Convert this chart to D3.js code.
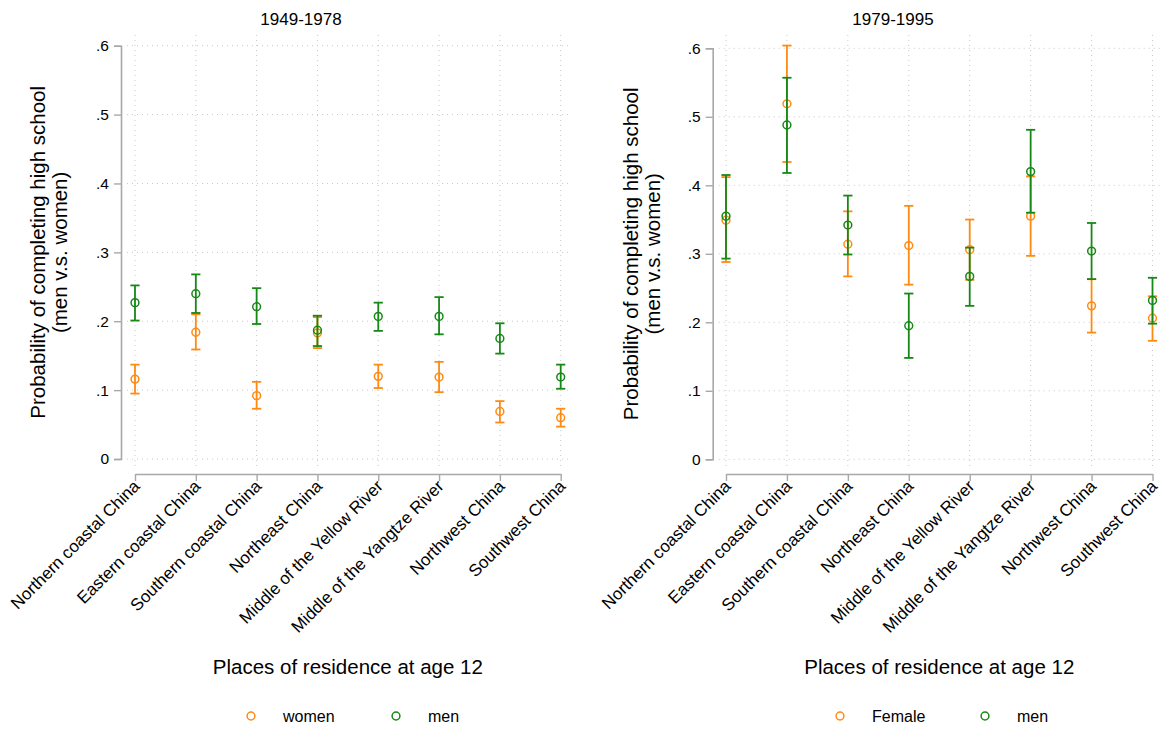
<!DOCTYPE html>
<html>
<head>
<meta charset="utf-8">
<script src="https://cdn.jsdelivr.net/npm/d3@7"></script>
<style>
  body { margin: 0; background: #fff; }
  text { font-family: "Liberation Sans", Arial, Helvetica, sans-serif; fill: #000; }
</style>
</head>
<body>
<svg id="chart" width="1163" height="729"></svg>
<script>
// ---------- data ----------
const categories = ["Northern coastal China", "Eastern coastal China", "Southern coastal China",
  "Northeast China", "Middle of the Yellow River", "Middle of the Yangtze River",
  "Northwest China", "Southwest China"];
const yTicks = [0, 0.1, 0.2, 0.3, 0.4, 0.5, 0.6];
const yTickLabels = ["0", ".1", ".2", ".3", ".4", ".5", ".6"];

// Panel 1: 1949-1978
const women1 = [0.116, 0.184, 0.092, 0.183, 0.120, 0.119, 0.069, 0.060];
const women1Lo = [0.095, 0.159, 0.073, 0.161, 0.103, 0.097, 0.053, 0.047];
const women1Hi = [0.137, 0.210, 0.112, 0.206, 0.137, 0.141, 0.084, 0.073];
const men1 = [0.227, 0.240, 0.221, 0.187, 0.207, 0.207, 0.175, 0.119];
const men1Lo = [0.201, 0.212, 0.196, 0.164, 0.186, 0.181, 0.153, 0.102];
const men1Hi = [0.252, 0.268, 0.248, 0.208, 0.227, 0.235, 0.197, 0.137];

// Panel 2: 1979-1995
const female2 = [0.349, 0.519, 0.314, 0.312, 0.306, 0.355, 0.224, 0.206];
const female2Lo = [0.288, 0.434, 0.267, 0.255, 0.262, 0.297, 0.185, 0.173];
const female2Hi = [0.412, 0.604, 0.362, 0.370, 0.350, 0.413, 0.263, 0.238];
const men2 = [0.355, 0.488, 0.342, 0.195, 0.267, 0.420, 0.304, 0.232];
const men2Lo = [0.293, 0.418, 0.299, 0.148, 0.224, 0.360, 0.263, 0.198];
const men2Hi = [0.415, 0.557, 0.385, 0.242, 0.309, 0.481, 0.345, 0.265];

const panelTitles = ["1949-1978", "1979-1995"];
const legendLabels = [["women", "men"], ["Female", "men"]];
const yTitle1 = "Probability of completing high school";
const yTitle2 = "(men v.s. women)";
const xTitle = "Places of residence at age 12";

const ORANGE = "#ff8a12";
const GREEN = "#168816";

const svg = d3.select("#chart");

const panels = [
  { title: panelTitles[0], titleX: 301, axisX: 121, xr: [135, 560.7], yr: [459, 45.7], plotR: 572,
    yT1: 45, yT2: 67, legend: legendLabels[0], legX: 251,
    series: [
      { v: women1, lo: women1Lo, hi: women1Hi, c: ORANGE },
      { v: men1, lo: men1Lo, hi: men1Hi, c: GREEN } ] },
  { title: panelTitles[1], titleX: 893, axisX: 712.7, xr: [726, 1152.5], yr: [459.3, 48.3], plotR: 1163,
    yT1: 638, yT2: 660, legend: legendLabels[1], legX: 840,
    series: [
      { v: female2, lo: female2Lo, hi: female2Hi, c: ORANGE },
      { v: men2, lo: men2Lo, hi: men2Hi, c: GREEN } ] }
];

panels.forEach(p => {
  const g = svg.append("g");
  const x = d3.scalePoint().domain(categories).range(p.xr);
  const y = d3.scaleLinear().domain([0, 0.6]).range(p.yr);
  const plotTop = 35, plotBot = 467;

  // gridlines
  g.append("g").selectAll("line.hg").data(yTicks).join("line")
    .attr("x1", p.axisX + 6).attr("x2", p.plotR)
    .attr("y1", d => y(d)).attr("y2", d => y(d))
    .attr("stroke", "#c8c8c8").attr("stroke-width", 1).attr("stroke-dasharray", "1,4");
  g.append("g").selectAll("line.vg").data(categories).join("line")
    .attr("x1", d => x(d)).attr("x2", d => x(d))
    .attr("y1", plotTop).attr("y2", plotBot)
    .attr("stroke", "#c8c8c8").attr("stroke-width", 1).attr("stroke-dasharray", "1,4");

  // y axis
  const yAxis = d3.axisLeft(y).tickValues(yTicks)
    .tickFormat((d, i) => yTickLabels[i]).tickSize(7).tickPadding(5);
  const ya = g.append("g").attr("transform", `translate(${p.axisX},0)`).call(yAxis);
  ya.select(".domain").attr("stroke", "#a8a8a8").attr("stroke-width", 1.6);
  ya.selectAll(".tick line").attr("stroke", "#a8a8a8").attr("stroke-width", 1.4);
  ya.selectAll(".tick text").style("font-size", "15.5px")
    .style("font-family", "'Liberation Sans', Arial, sans-serif").attr("fill", "#000");

  // x axis
  const xAxis = d3.axisBottom(x).tickSize(7).tickPadding(4).tickSizeOuter(0);
  const xa = g.append("g").attr("transform", "translate(0,474)").call(xAxis);
  xa.select(".domain").attr("stroke", "#a8a8a8").attr("stroke-width", 1.6);
  xa.selectAll(".tick line").attr("stroke", "#a8a8a8").attr("stroke-width", 1.4);
  xa.selectAll(".tick text")
    .style("font-size", "17px").style("font-family", "'Liberation Sans', Arial, sans-serif")
    .attr("fill", "#000")
    .attr("text-anchor", "end")
    .attr("dy", "0.35em")
    .attr("transform", "translate(1,9) rotate(-45)")
    .attr("x", 0).attr("y", 0);

  // series
  p.series.forEach(s => {
    const sg = g.append("g");
    const idx = d3.range(categories.length);
    sg.selectAll("line.ci").data(idx).join("line")
      .attr("x1", i => x(categories[i])).attr("x2", i => x(categories[i]))
      .attr("y1", i => y(s.lo[i])).attr("y2", i => y(s.hi[i]))
      .attr("stroke", s.c).attr("stroke-width", 1.8);
    sg.selectAll("line.caphi").data(idx).join("line")
      .attr("x1", i => x(categories[i]) - 4.6).attr("x2", i => x(categories[i]) + 4.6)
      .attr("y1", i => y(s.hi[i])).attr("y2", i => y(s.hi[i]))
      .attr("stroke", s.c).attr("stroke-width", 1.8);
    sg.selectAll("line.caplo").data(idx).join("line")
      .attr("x1", i => x(categories[i]) - 4.6).attr("x2", i => x(categories[i]) + 4.6)
      .attr("y1", i => y(s.lo[i])).attr("y2", i => y(s.lo[i]))
      .attr("stroke", s.c).attr("stroke-width", 1.8);
    sg.selectAll("circle").data(idx).join("circle")
      .attr("cx", i => x(categories[i])).attr("cy", i => y(s.v[i]))
      .attr("r", 3.9).attr("fill", "none").attr("stroke", s.c).attr("stroke-width", 1.5);
  });

  // titles
  g.append("text").attr("x", p.titleX).attr("y", 25).attr("text-anchor", "middle")
    .style("font-size", "17px").text(p.title);
  const midY = (p.yr[0] + p.yr[1]) / 2;
  g.append("text").attr("transform", `translate(${p.yT1},${midY}) rotate(-90)`)
    .attr("text-anchor", "middle").style("font-size", "20.5px").text(yTitle1);
  g.append("text").attr("transform", `translate(${p.yT2},${midY}) rotate(-90)`)
    .attr("text-anchor", "middle").style("font-size", "20.5px").text(yTitle2);
  g.append("text").attr("x", (p.xr[0] + p.xr[1]) / 2).attr("y", 674).attr("text-anchor", "middle")
    .style("font-size", "20.5px").text(xTitle);

  // legend
  const legColors = [ORANGE, GREEN];
  const legOffsets = [0, 145];
  p.legend.forEach((lab, i) => {
    const lx = p.legX + legOffsets[i];
    g.append("circle").attr("cx", lx).attr("cy", 716).attr("r", 3.9)
      .attr("fill", "none").attr("stroke", legColors[i]).attr("stroke-width", 1.5);
    g.append("text").attr("x", lx + 32).attr("y", 722).style("font-size", "16px").text(lab);
  });
});
</script>
</body>
</html>
